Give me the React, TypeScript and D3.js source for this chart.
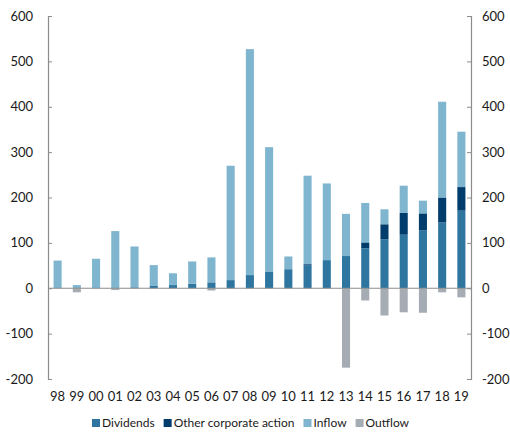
import React, { useEffect, useRef } from 'react';
import * as d3 from 'd3';

const years = ['98', '99', '00', '01', '02', '03', '04', '05', '06', '07', '08', '09', '10', '11', '12', '13', '14', '15', '16', '17', '18', '19'];
const dividends = [0, 0, 0, 0, 2, 5, 7, 10, 13, 18, 29, 37, 42, 51, 62, 71, 88, 108, 118, 128, 145, 171];
const otherAction = [0, 0, 0, 0, 0, 0, 0, 0, 0, 0, 0, 0, 0, 2, 0, 0, 13, 33, 48, 37, 55, 52];
const inflow = [61, 7, 65, 126, 90, 46, 26, 49, 55, 252, 498, 274, 28, 195, 169, 93, 87, 33, 60, 28, 211, 122];
const outflow = [0, -9, 0, -4, 0, 0, 0, 0, -5, 0, 0, 0, 0, 0, 0, -175, -27, -60, -53, -54, -9, -20];
const yTicks = [-200, -100, 0, 100, 200, 300, 400, 500, 600];

const series = [
  { name: 'Dividends', values: dividends, color: '#2e76a0' },
  { name: 'Other corporate action', values: otherAction, color: '#003d6c' },
  { name: 'Inflow', values: inflow, color: '#7fb5cf' },
  { name: 'Outflow', values: outflow, color: '#a5acb4' },
];

const W = 510;
const H = 436;
const FONT = 'Lato, "Open Sans", sans-serif';

const App: React.FC = () => {
  const svgRef = useRef<SVGSVGElement>(null);

  useEffect(() => {
    if (!svgRef.current) return;
    const svg = d3.select(svgRef.current);
    svg.selectAll('*').remove();

    const left = 48;
    const right = 471;

    const x = d3.scaleBand<string>()
      .domain(years)
      .range([left, right])
      .paddingInner(0.58)
      .paddingOuter(0.29);

    const y = d3.scaleLinear().domain([-200, 600]).range([379, 16]);

    // Stacked bars
    years.forEach((yr, i) => {
      let base = 0;
      series.slice(0, 3).forEach(s => {
        const v = s.values[i];
        if (v > 0) {
          svg.append('rect')
            .attr('x', x(yr)!)
            .attr('y', y(base + v))
            .attr('width', x.bandwidth())
            .attr('height', y(base) - y(base + v))
            .attr('fill', s.color);
        }
        base += v;
      });
      const o = outflow[i];
      if (o < 0) {
        svg.append('rect')
          .attr('x', x(yr)!)
          .attr('y', y(0))
          .attr('width', x.bandwidth())
          .attr('height', y(o) - y(0))
          .attr('fill', series[3].color);
      }
    });

    // Axes
    const axisColor = '#8c8c8c';
    const leftAxis = svg.append('g').attr('transform', `translate(${left},0)`)
      .call(d3.axisRight(y).tickValues(yTicks).tickSize(4).tickFormat(() => ''));
    const rightAxis = svg.append('g').attr('transform', `translate(${right},0)`)
      .call(d3.axisLeft(y).tickValues(yTicks).tickSize(4).tickFormat(() => ''));
    [leftAxis, rightAxis].forEach(a => {
      a.selectAll('path').attr('stroke', axisColor).attr('stroke-width', 1.2);
      a.selectAll('line').attr('stroke', axisColor);
    });

    svg.append('line')
      .attr('x1', left).attr('x2', right)
      .attr('y1', y(0)).attr('y2', y(0))
      .attr('stroke', axisColor).attr('stroke-width', 1.2);

    // Tick labels
    yTicks.forEach(t => {
      svg.append('text')
        .attr('x', 33).attr('y', y(t))
        .attr('text-anchor', 'end').attr('dy', '0.35em')
        .style('font-family', FONT).style('font-size', '13px').attr('fill', '#1a1a1a')
        .text(t);
      svg.append('text')
        .attr('x', 482).attr('y', y(t))
        .attr('text-anchor', 'start').attr('dy', '0.35em')
        .style('font-family', FONT).style('font-size', '13px').attr('fill', '#1a1a1a')
        .text(t);
    });

    years.forEach(yr => {
      svg.append('text')
        .attr('x', x(yr)! + x.bandwidth() / 2).attr('y', 396)
        .attr('text-anchor', 'middle').attr('dy', '0.35em')
        .style('font-family', FONT).style('font-size', '13px').attr('fill', '#1a1a1a')
        .text(yr);
    });

    // Legend
    const legend = svg.append('g').attr('transform', 'translate(92,423)');
    let lx = 0;
    series.forEach(s => {
      legend.append('rect')
        .attr('x', lx).attr('y', -4)
        .attr('width', 8).attr('height', 8)
        .attr('fill', s.color);
      const t = legend.append('text')
        .attr('x', lx + 10).attr('y', 0).attr('dy', '0.35em')
        .style('font-family', FONT).style('font-size', '12px').attr('fill', '#1a1a1a')
        .text(s.name);
      const w = (t.node() as SVGTextElement).getComputedTextLength();
      lx += 10 + w + 9;
    });
  }, []);

  return (
    <svg
      ref={svgRef}
      width={W}
      height={H}
      style={{ display: 'block', position: 'absolute', left: 0, top: 0, background: '#fff' }}
    />
  );
};

export default App;
